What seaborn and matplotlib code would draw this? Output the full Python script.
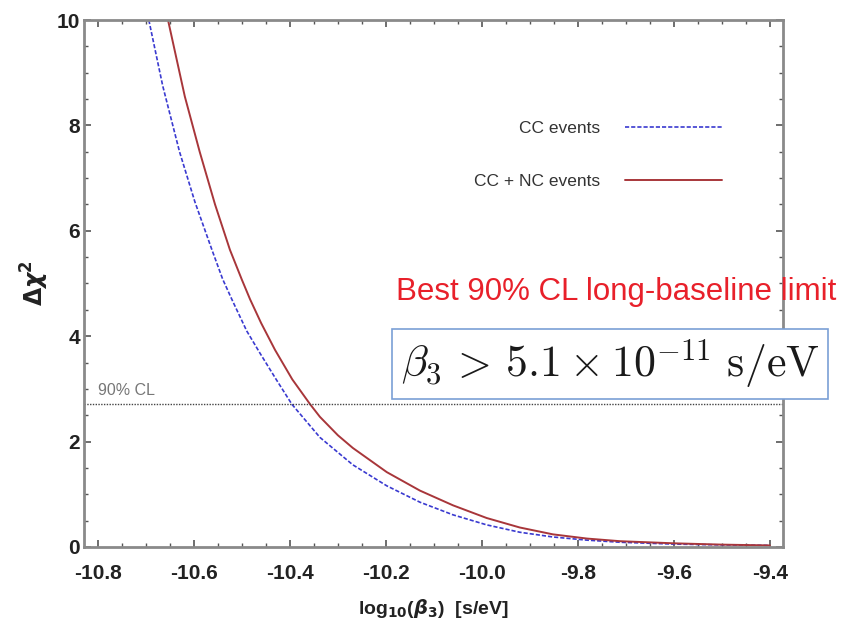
import matplotlib
matplotlib.use("Agg")
import matplotlib.pyplot as plt
import numpy as np
import pandas as pd
import seaborn as sns
from matplotlib.ticker import MultipleLocator

# values
cc_x = [-10.694, -10.665, -10.630, -10.598, -10.5625, -10.540, -10.519, -10.490,
        -10.4625, -10.430, -10.396, -10.3375, -10.269, -10.198, -10.129, -10.060,
        -9.990, -9.921, -9.852, -9.781, -9.712, -9.60, -9.50, -9.40]
cc_y = [10.0, 8.75, 7.50, 6.55, 5.64, 5.08, 4.66, 4.10,
        3.68, 3.20, 2.71, 2.08, 1.56, 1.16, 0.85, 0.61,
        0.42, 0.28, 0.19, 0.13, 0.09, 0.055, 0.04, 0.03]

ccnc_x = [-10.654, -10.619, -10.588, -10.556, -10.525, -10.500, -10.483, -10.460,
          -10.431, -10.395, -10.358, -10.3375, -10.300, -10.269, -10.198, -10.129,
          -10.060, -9.990, -9.921, -9.852, -9.781, -9.712, -9.60, -9.50, -9.40]
ccnc_y = [10.0, 8.55, 7.50, 6.50, 5.64, 5.07, 4.70, 4.25,
          3.74, 3.18, 2.71, 2.47, 2.12, 1.88, 1.42, 1.07,
          0.79, 0.55, 0.37, 0.24, 0.16, 0.11, 0.07, 0.045, 0.03]

cl90 = 2.71
x_ticks = [-10.8, -10.6, -10.4, -10.2, -10.0, -9.8, -9.6, -9.4]
y_ticks = [0, 2, 4, 6, 8, 10]


def main():
    sns.set_style("ticks")
    plt.rcParams['font.family'] = ['Liberation Sans', 'DejaVu Sans']
    plt.rcParams['mathtext.fontset'] = 'dejavusans'

    df_cc = pd.DataFrame({'x': cc_x, 'y': cc_y})
    df_ccnc = pd.DataFrame({'x': ccnc_x, 'y': ccnc_y})

    fig = plt.figure(figsize=(8.68, 6.27), dpi=100)
    ax = fig.add_axes([0.0968, 0.1276, 0.805, 0.8405])

    sns.lineplot(x='x', y='y', data=df_cc, ax=ax, color='#3a3ad0', lw=1.2,
                 linestyle=(0, (2.5, 1.2)), label='CC events', sort=False)
    sns.lineplot(x='x', y='y', data=df_ccnc, ax=ax, color='#a8363a', lw=1.4,
                 label='CC + NC events', sort=False)

    ax.axhline(cl90, color='#444444', lw=1.0, linestyle=(0, (1, 1)))
    ax.text(-10.8, cl90 + 0.12, '90% CL', color='#777777', fontsize=11.5,
            ha='left', va='bottom')

    ax.set_xlim(-10.829, -9.373)
    ax.set_ylim(0, 10)
    ax.set_xticks(x_ticks)
    ax.set_yticks(y_ticks)
    ax.set_xticklabels(['%.1f' % v for v in x_ticks])
    ax.set_yticklabels([str(v) for v in y_ticks])
    ax.xaxis.set_minor_locator(MultipleLocator(0.05))
    ax.yaxis.set_minor_locator(MultipleLocator(0.5))
    ax.tick_params(which='both', direction='in', top=True, right=True,
                   color='#555555')
    ax.tick_params(which='major', length=5, width=1.2, labelsize=15)
    ax.tick_params(axis='x', which='major', pad=12)
    ax.tick_params(axis='y', which='major', pad=3)
    ax.tick_params(which='minor', length=3, width=1.0)
    for lab in ax.get_xticklabels() + ax.get_yticklabels():
        lab.set_fontweight('bold')
        lab.set_color('#222222')
    for s in ax.spines.values():
        s.set_color('#8a8a8a')
        s.set_linewidth(2.0)

    ax.set_xlabel(r'log$_{\mathbf{10}}$($\boldsymbol{\beta}_\mathbf{3}$)  [s/eV]',
                  fontsize=14, fontweight='bold', color='#222222', labelpad=10)
    ax.set_ylabel(r'$\mathbf{\Delta}\boldsymbol{\chi}^\mathbf{2}$', fontsize=17,
                  color='#222222', labelpad=4)

    leg = ax.legend(loc='upper right', bbox_to_anchor=(722 / 868, 1 - 121 / 627),
                    bbox_transform=fig.transFigure, frameon=False,
                    markerfirst=False, fontsize=12.5, handlelength=5.6,
                    handletextpad=1.4, labelspacing=2.2, borderpad=0,
                    borderaxespad=0)
    for t in leg.get_texts():
        t.set_color('#333333')

    fig.text(396 / 868, 1 - 292 / 627, 'Best 90% CL long-baseline limit',
             color='#e8202a', fontsize=22.5, ha='left', va='center')
    fig.text(610 / 868, 1 - 364 / 627,
             r'$\beta_3\,>\,5.1\times10^{-11}\ \mathrm{s/eV}$',
             color='#1a1a1a', fontsize=31.5, ha='center', va='center',
             math_fontfamily='cm',
             bbox=dict(boxstyle='square,pad=0.2', fc='white', ec='#7a9fd6', lw=1.2))

    plt.savefig('out.png', dpi=100)
    plt.close()


if __name__ == "__main__":
    main()
